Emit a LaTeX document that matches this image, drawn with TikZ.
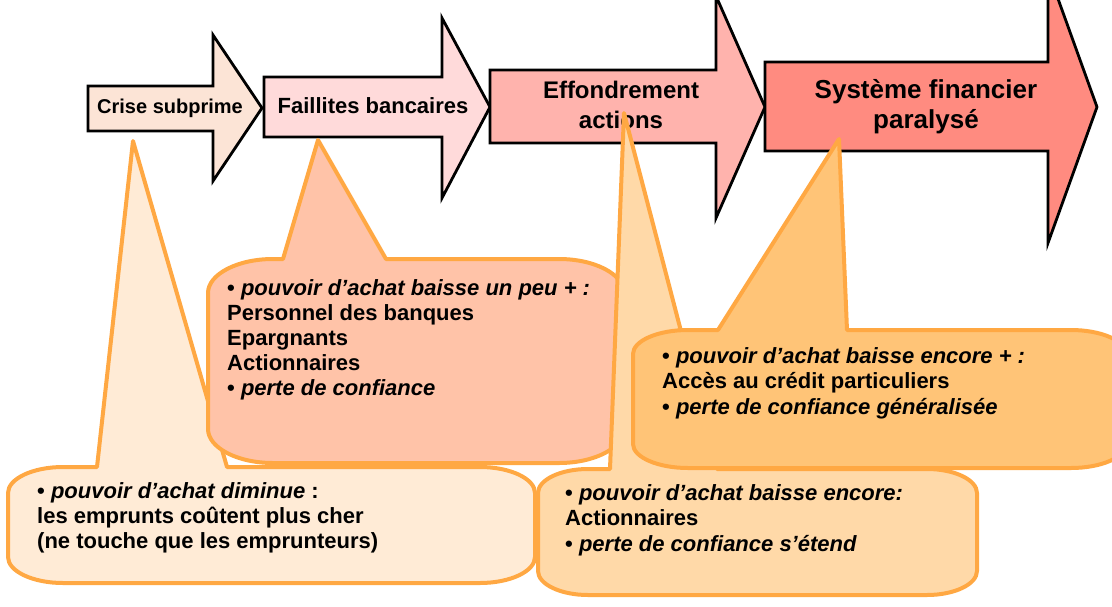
\documentclass[tikz,border=0pt]{standalone}
\usepackage{fontspec}
\setmainfont{Liberation Sans}
\definecolor{arA}{HTML}{FCE4D6}
\definecolor{arB}{HTML}{FFDADA}
\definecolor{arC}{HTML}{FFB3AD}
\definecolor{arD}{HTML}{FF8B80}
\definecolor{cA}{HTML}{FFEBD6}
\definecolor{cB}{HTML}{FFC3A8}
\definecolor{cC}{HTML}{FFD9A8}
\definecolor{cD}{HTML}{FFC477}
\definecolor{obord}{HTML}{FFA843}
% arrow: fill, left x, body top, body bottom, head base x, head top, head bottom, tip x, tip y
\newcommand\bigarrow[9]{%
  \filldraw[arrowbox, fill=#1] (#2,#3) -- (#5,#3) -- (#5,#6) -- (#8,#9) -- (#5,#7) -- (#5,#4) -- (#2,#4) -- cycle;}
% callout: fill, x1, y1, x2, y2, rx, ry, pointer base left, pointer base right; tip = coordinate (tip-#1)
\newcommand\bubble[9]{%
  \filldraw[bubblebox, fill=#1] (#8,#3) -- (tip-#1) -- (#9,#3) -- ({#4-#6},#3)
    .. controls ({#4-0.45*#6},#3) and (#4,{#3+0.45*#7}) .. (#4,{#3+#7})
    -- (#4,{#5-#7})
    .. controls (#4,{#5-0.45*#7}) and ({#4-0.45*#6},#5) .. ({#4-#6},#5)
    -- ({#2+#6},#5)
    .. controls ({#2+0.45*#6},#5) and (#2,{#5-0.45*#7}) .. (#2,{#5-#7})
    -- (#2,{#3+#7})
    .. controls (#2,{#3+0.45*#7}) and ({#2+0.45*#6},#3) .. ({#2+#6},#3)
    -- cycle;}
\begin{document}
\begin{tikzpicture}[x=1pt,y=-1pt,
  arrowbox/.style={draw=black, line width=2.8pt},
  bubblebox/.style={draw=obord, line width=4pt, line join=round},
  atext/.style={anchor=base, inner sep=0pt, font=\bfseries},
  btext/.style={anchor=base west, inner sep=0pt, font=\fontsize{22}{25}\selectfont\bfseries}]
\useasboundingbox (0,0) rectangle (1112,606);
\fill[white] (0,0) rectangle (1112,606);
\clip (0,0) rectangle (1112,606);
% arrows
\bigarrow{arA}{88}{86}{131}{213}{35}{181}{262}{108}
\bigarrow{arB}{264}{77}{137}{442}{18}{198}{490}{107}
\bigarrow{arC}{490}{70}{143}{716}{-4}{218}{765}{107}
\bigarrow{arD}{765}{62}{151}{1048}{-29}{243}{1097}{107}
\node[atext, font=\fontsize{20}{24}\selectfont\bfseries] (a1) at (170,113) {Crise subprime};
\node[atext, font=\fontsize{22}{26}\selectfont\bfseries] (a2) at (373,113) {Faillites bancaires};
\node[atext, font=\fontsize{24}{28}\selectfont\bfseries] (a3a) at (621,98) {Effondrement};
\node[atext, font=\fontsize{24}{28}\selectfont\bfseries] (a3b) at (621,128) {actions};
\node[atext, font=\fontsize{26}{30}\selectfont\bfseries] (a4a) at (926,98) {Système financier};
\node[atext, font=\fontsize{26}{30}\selectfont\bfseries] (a4b) at (926,128) {paralysé};
% callout 1
\coordinate (tip-cA) at (133,141);
\bubble{cA}{8}{467}{535}{583}{55}{26}{97}{227}
\node[btext] (c1l1) at (37,498) {• \textit{pouvoir d’achat diminue} :};
\node[btext] (c1l2) at (37,523) {les emprunts coûtent plus cher};
\node[btext] (c1l3) at (37,548) {(ne touche que les emprunteurs)};
% callout 2
\coordinate (tip-cB) at (318,140);
\bubble{cB}{208}{259}{624}{463}{65}{34}{283}{386}
\node[btext] (c2l1) at (227,295) {• \textit{pouvoir d’achat baisse un peu + :}};
\node[btext] (c2l2) at (227,320) {Personnel des banques};
\node[btext] (c2l3) at (227,345) {Epargnants};
\node[btext] (c2l4) at (227,370) {Actionnaires};
\node[btext] (c2l5) at (227,395) {• \textit{perte de confiance}};
% callout 3
\coordinate (tip-cC) at (624,113);
\bubble{cC}{538}{469}{977}{595}{50}{24}{610}{717}
\node[btext] (c3l1) at (565,500) {• \textit{pouvoir d’achat baisse encore:}};
\node[btext] (c3l2) at (565,525) {Actionnaires};
\node[btext] (c3l3) at (565,551) {• \textit{perte de confiance s’étend}};
% callout 4
\coordinate (tip-cD) at (839,139);
\bubble{cD}{633}{330}{1126}{468}{55}{24}{718}{847}
\node[btext] (c4l1) at (662,363) {• \textit{pouvoir d’achat baisse encore + :}};
\node[btext] (c4l2) at (662,388) {Accès au crédit particuliers};
\node[btext] (c4l3) at (662,414) {• \textit{perte de confiance généralisée}};
\end{tikzpicture}
\end{document}
